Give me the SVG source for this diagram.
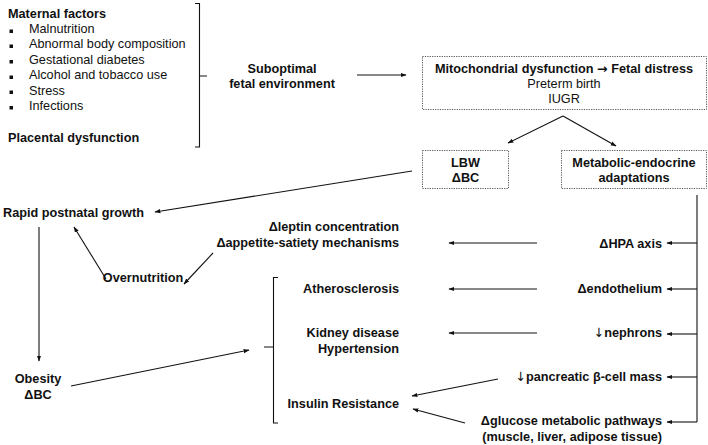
<svg xmlns="http://www.w3.org/2000/svg" width="708" height="445" viewBox="0 0 708 445">
<defs>
<marker id="ah" viewBox="0 0 10 10" refX="9" refY="5" markerWidth="6" markerHeight="6" orient="auto" markerUnits="userSpaceOnUse">
<path d="M0,1.5 L10,5 L0,8.5 z" fill="#111"/>
</marker>
<style>
text{font-family:"Liberation Sans",Arial,sans-serif;font-size:12.7px;fill:#111}
.b{font-weight:bold}
.m{text-anchor:middle}
.e{text-anchor:end}
.sym{font-family:"DejaVu Sans",sans-serif;font-weight:normal}
.ln{stroke:#111;stroke-width:1.1;fill:none}
.ar{stroke:#111;stroke-width:1.1;fill:none;marker-end:url(#ah)}
.box{fill:#fff;stroke:#555;stroke-width:1;stroke-dasharray:1.2,1.2}
.bul{fill:#111}
</style>
</defs>
<rect width="708" height="445" fill="#fff"/>

<g id="maternal">
<text class="b" x="8" y="18">Maternal factors</text>
<rect class="bul" x="9.5" y="29.5" width="3.5" height="3.5"/><text x="29" y="33">Malnutrition</text>
<rect class="bul" x="9.5" y="44.5" width="3.5" height="3.5"/><text x="29" y="48">Abnormal body composition</text>
<rect class="bul" x="9.5" y="60" width="3.5" height="3.5"/><text x="29" y="63.5">Gestational diabetes</text>
<rect class="bul" x="9.5" y="75.5" width="3.5" height="3.5"/><text x="29" y="79">Alcohol and tobacco use</text>
<rect class="bul" x="9.5" y="90.5" width="3.5" height="3.5"/><text x="29" y="94.5">Stress</text>
<rect class="bul" x="9.5" y="106" width="3.5" height="3.5"/><text x="29" y="110">Infections</text>
<text class="b" x="8" y="141.5">Placental dysfunction</text>
</g>

<g id="suboptimal">
<text class="b m" x="282" y="72.5">Suboptimal</text>
<text class="b m" x="282" y="87.5">fetal environment</text>
</g>

<g id="mito">
<rect class="box" x="422.5" y="56.5" width="284" height="53"/>
<text class="b m" x="564" y="72.5">Mitochondrial dysfunction <tspan font-family="DejaVu Sans" font-weight="bold">→</tspan> Fetal distress</text>
<text class="m" x="564" y="87.5">Preterm birth</text>
<text class="m" x="564" y="103">IUGR</text>
</g>

<g id="lbw">
<rect class="box" x="422.5" y="150.5" width="86" height="38"/>
<text class="b m" x="465.5" y="166.5">LBW</text>
<text class="b m" x="465.5" y="181.5">ΔBC</text>
</g>

<g id="metabolic">
<rect class="box" x="561.5" y="150.5" width="145" height="38"/>
<text class="b m" x="634" y="166.5">Metabolic-endocrine</text>
<text class="b m" x="634" y="181.5">adaptations</text>
</g>

<g id="rapid"><text class="b" x="3" y="216.5">Rapid postnatal growth</text></g>
<g id="overnutrition"><text class="b m" x="143" y="281.5">Overnutrition</text></g>
<g id="obesity">
<text class="b m" x="38" y="383">Obesity</text>
<text class="b m" x="38" y="398.5">ΔBC</text>
</g>

<g id="leptin">
<text class="b e" x="399" y="231">Δleptin concentration</text>
<text class="b e" x="399" y="247">Δappetite-satiety mechanisms</text>
</g>
<g id="athero"><text class="b e" x="399" y="292.5">Atherosclerosis</text></g>
<g id="kidney">
<text class="b e" x="399" y="336.5">Kidney disease</text>
<text class="b e" x="399" y="352.5">Hypertension</text>
</g>
<g id="insulin"><text class="b e" x="399" y="407.5">Insulin Resistance</text></g>

<g id="hpa"><text class="b e" x="662" y="247.5">ΔHPA axis</text></g>
<g id="endo"><text class="b e" x="662" y="292.5">Δendothelium</text></g>
<g id="nephrons"><text class="b e" x="662" y="337"><tspan class="sym">↓</tspan>nephrons</text></g>
<g id="pancreatic"><text class="b e" x="662" y="380.5"><tspan class="sym">↓</tspan>pancreatic β-cell mass</text></g>
<g id="glucose">
<text class="b e" x="662" y="424.5">Δglucose metabolic pathways</text>
<text class="b e" x="662" y="441">(muscle, liver, adipose tissue)</text>
</g>

<g id="connectors">
<path class="ln" d="M195,3.5 H199.5 V147 H195 M199.5,76 H207"/>
<line class="ar" x1="357" y1="75" x2="406" y2="75"/>
<line class="ar" x1="563" y1="116" x2="508" y2="143"/>
<line class="ar" x1="563" y1="116" x2="616" y2="146"/>
<line class="ar" x1="412" y1="171" x2="155" y2="212"/>
<line class="ar" x1="39" y1="227" x2="39" y2="361"/>
<line class="ar" x1="106" y1="279" x2="74" y2="227"/>
<line class="ar" x1="213" y1="253" x2="184" y2="284"/>
<line class="ar" x1="71" y1="386" x2="249" y2="350"/>
<path class="ln" d="M278,277.5 H273.5 V423 H278 M273.5,347 H264"/>
<line class="ln" x1="697" y1="195" x2="697" y2="422"/>
<line class="ar" x1="697" y1="243" x2="667" y2="243"/>
<line class="ar" x1="697" y1="289" x2="667" y2="289"/>
<line class="ar" x1="697" y1="334" x2="667" y2="334"/>
<line class="ar" x1="697" y1="377" x2="667" y2="377"/>
<line class="ar" x1="697" y1="422" x2="667" y2="422"/>
<line class="ar" x1="537" y1="243" x2="449" y2="243"/>
<line class="ar" x1="537" y1="289" x2="449" y2="289"/>
<line class="ar" x1="537" y1="333" x2="449" y2="333"/>
<line class="ar" x1="498" y1="379" x2="412" y2="396"/>
<line class="ar" x1="465" y1="423" x2="413" y2="409"/>
</g>
</svg>
